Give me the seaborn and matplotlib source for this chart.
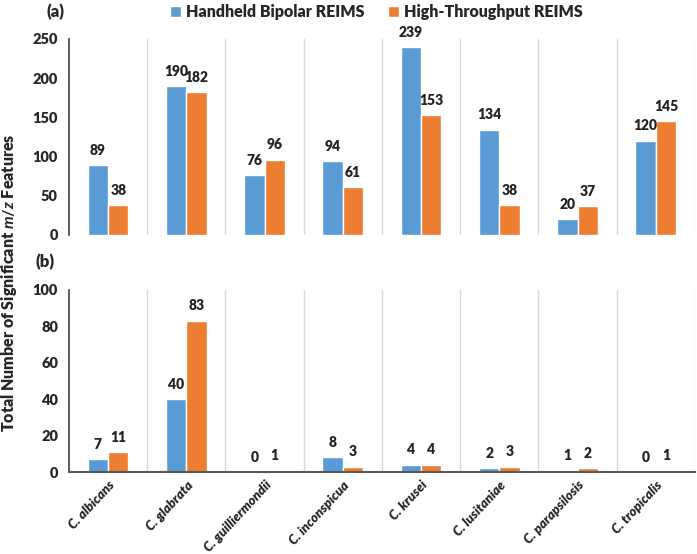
import numpy as np
import pandas as pd
import matplotlib
matplotlib.use("Agg")
import matplotlib.pyplot as plt
import seaborn as sns
from matplotlib.patches import Patch

species = ["C. albicans", "C. glabrata", "C. guilliermondii", "C. inconspicua",
           "C. krusei", "C. lusitaniae", "C. parapsilosis", "C. tropicalis"]
methods = ["Handheld Bipolar REIMS", "High-Throughput REIMS"]

# panel (a)
handheld_a = [89, 190, 76, 94, 239, 134, 20, 120]
highthr_a = [38, 182, 96, 61, 153, 38, 37, 145]

# panel (b)
handheld_b = [7, 40, 0, 8, 4, 2, 1, 0]
highthr_b = [11, 83, 1, 3, 4, 3, 2, 1]

colors = ["#5B9BD5", "#ED7D31"]

sns.set_style("white")
plt.rcParams["font.family"] = ["Lato", "DejaVu Sans"]
plt.rcParams["font.weight"] = "heavy"
plt.rcParams["mathtext.fontset"] = "custom"
plt.rcParams["mathtext.it"] = "Lato:italic:bold"
plt.rcParams["mathtext.rm"] = "Lato:bold"
W = "heavy"


def make_df(a, b):
    return pd.DataFrame({
        "species": species * 2,
        "count": a + b,
        "method": [methods[0]] * len(species) + [methods[1]] * len(species),
    })


fig = plt.figure(figsize=(6.97, 5.54), dpi=100)
ax_a = fig.add_axes([0.099, 0.576, 0.898, 0.354])
ax_b = fig.add_axes([0.099, 0.148, 0.898, 0.329])

panels = [(ax_a, make_df(handheld_a, highthr_a), 250, 50),
          (ax_b, make_df(handheld_b, highthr_b), 100, 20)]

for ax, df, ymax, step in panels:
    sns.barplot(data=df, x="species", y="count", hue="method", hue_order=methods,
                order=species, palette=colors, width=0.52, gap=0, ax=ax,
                legend=False, saturation=1, errorbar=None)
    for cont in ax.containers:
        ax.bar_label(cont, padding=6, fontsize=10, fontweight=W, color="#222222")
    ax.set_xlim(-0.5, len(species) - 0.5)
    ax.set_ylim(0, ymax)
    ax.set_yticks(np.arange(0, ymax + 1, step))
    for xb in np.arange(0.5, len(species), 1):
        ax.axvline(xb, color="#d9d9d9", lw=1, zorder=0)
    ax.set_xlabel("")
    ax.set_ylabel("")
    for s in ["top", "right"]:
        ax.spines[s].set_visible(False)
    ax.spines["left"].set_color("#404040")
    ax.spines["left"].set_linewidth(1.2)
    ax.tick_params(length=0, labelsize=10.5, pad=8)
    for lab in ax.get_yticklabels():
        lab.set_fontweight(W)

ax_a.spines["bottom"].set_visible(False)
ax_a.set_xticklabels([])
ax_b.spines["bottom"].set_color("#595959")
ax_b.spines["bottom"].set_linewidth(1.5)
ax_b.set_xticks(range(len(species)))
ax_b.set_xticklabels(species, rotation=47, ha="right", rotation_mode="anchor",
                     fontstyle="italic", fontweight=W, fontsize=9.5)
ax_b.tick_params(axis="x", pad=5)

fig.text(0.013, 0.49, "Total Number of Significant $m/z$ Features", rotation=90,
         ha="center", va="center", fontsize=11.5, fontweight=W)
fig.text(0.079, 0.978, "(a)", ha="center", va="center", fontsize=12, fontweight=W)
fig.text(0.065, 0.527, "(b)", ha="center", va="center", fontsize=12, fontweight=W)

handles = [Patch(facecolor=c, label=m) for c, m in zip(colors, methods)]
fig.legend(handles=handles, loc="center", bbox_to_anchor=(0.54, 0.978), ncol=2,
           frameon=False, handlelength=0.7, handleheight=0.7,
           handletextpad=0.3, columnspacing=1.5, prop={"weight": W, "size": 11.5})

fig.savefig("out.png", dpi=100)
